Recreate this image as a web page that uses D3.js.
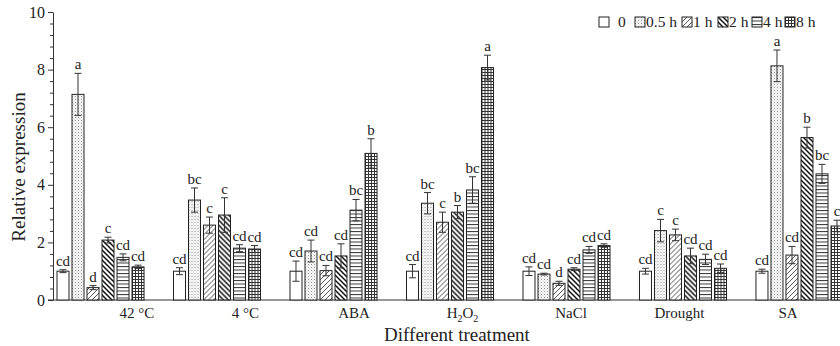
<!DOCTYPE html>
<html>
<head>
<meta charset="utf-8">
<script src="https://cdn.jsdelivr.net/npm/d3@7"></script>
<style>
  body { margin: 0; background: #fff; }
  svg text { font-family: "Liberation Serif", "Times New Roman", serif; fill: #222; }
</style>
</head>
<body>
<div id="chart"></div>
<script>
// data
const treatments = ["42 °C", "4 °C", "ABA", "H2O2", "NaCl", "Drought", "SA"];
const times = ["0", "0.5 h", "1 h", "2 h", "4 h", "8 h"];

// mean relative expression, one row per treatment, one column per time
const means = [
  [1.0, 7.14, 0.43, 2.08, 1.48, 1.15],
  [1.0, 3.47, 2.60, 2.95, 1.80, 1.77],
  [1.0, 1.70, 1.02, 1.53, 3.12, 5.09],
  [1.0, 3.36, 2.70, 3.05, 3.82, 8.07],
  [1.0, 0.90, 0.58, 1.07, 1.74, 1.89],
  [1.0, 2.41, 2.26, 1.53, 1.41, 1.10],
  [1.0, 8.13, 1.56, 5.64, 4.38, 2.57]
];
const errors = [
  [0.05, 0.73, 0.07, 0.10, 0.12, 0.06],
  [0.12, 0.42, 0.28, 0.60, 0.12, 0.12],
  [0.35, 0.38, 0.18, 0.42, 0.37, 0.51],
  [0.23, 0.37, 0.35, 0.23, 0.46, 0.43],
  [0.15, 0.03, 0.07, 0.05, 0.12, 0.06],
  [0.10, 0.39, 0.20, 0.27, 0.18, 0.15],
  [0.07, 0.55, 0.30, 0.36, 0.33, 0.20]
];
const letters = [
  ["cd", "a", "d", "c", "cd", "cd"],
  ["cd", "bc", "c", "c", "cd", "cd"],
  ["cd", "cd", "cd", "cd", "bc", "b"],
  ["cd", "bc", "c", "b", "bc", "a"],
  ["cd", "cd", "d", "cd", "cd", "cd"],
  ["cd", "c", "c", "cd", "cd", "cd"],
  ["cd", "a", "cd", "b", "bc", "c"]
];
const yTicks = [0, 2, 4, 6, 8, 10];

const W = 840, H = 346;
const svg = d3.select("#chart").append("svg")
  .attr("width", W).attr("height", H);

// fill patterns for each time point
const defs = svg.append("defs");
const pat = (id, w, h) => defs.append("pattern").attr("id", id)
  .attr("patternUnits", "userSpaceOnUse").attr("width", w).attr("height", h);

let p = pat("p05", 3, 3);
p.append("rect").attr("width", 3).attr("height", 3).attr("fill", "#fff");
p.append("rect").attr("x", 0).attr("y", 0).attr("width", 1).attr("height", 1).attr("fill", "#8a8a8a");
p.append("rect").attr("x", 1.5).attr("y", 1.5).attr("width", 1).attr("height", 1).attr("fill", "#b0b0b0");

p = pat("p1", 5, 5);
p.append("rect").attr("width", 5).attr("height", 5).attr("fill", "#fff");
p.append("path").attr("d", "M-1,6 L6,-1 M-1,1 L1,-1 M4,6 L6,4").attr("stroke", "#444").attr("stroke-width", 0.9);

p = pat("p2", 5, 5);
p.append("rect").attr("width", 5).attr("height", 5).attr("fill", "#fff");
p.append("path").attr("d", "M-1,-1 L6,6 M4,-1 L6,1 M-1,4 L1,6").attr("stroke", "#111").attr("stroke-width", 1.5);

p = pat("p4", 4, 3.5);
p.append("rect").attr("width", 4).attr("height", 3.5).attr("fill", "#fff");
p.append("line").attr("x1", 0).attr("x2", 4).attr("y1", 0.5).attr("y2", 0.5).attr("stroke", "#333").attr("stroke-width", 1);

p = pat("p8", 3, 3);
p.append("rect").attr("width", 3).attr("height", 3).attr("fill", "#fff");
p.append("path").attr("d", "M0,0.5 H3 M0.5,0 V3").attr("stroke", "#333").attr("stroke-width", 1);

const fills = ["#fff", "url(#p05)", "url(#p1)", "url(#p2)", "url(#p4)", "url(#p8)"];

// scales
const y = d3.scaleLinear().domain([0, 10]).range([300, 12]);
const x0 = d3.scaleBand().domain(treatments).range([57, 843]).paddingInner(0.253).paddingOuter(0);
const x1 = d3.scaleBand().domain(times).range([0, x0.bandwidth()]).paddingInner(0.2);
// category labels sit on their own spacing in the original figure
const xl = d3.scalePoint().domain(treatments).range([137, 788]);

// y axis
const minor = d3.range(0, 10.01, 0.4).filter(v => !yTicks.some(t => Math.abs(t - v) < 1e-6));
svg.append("g").attr("transform", "translate(53,0)")
  .call(d3.axisLeft(y).tickValues(minor).tickSize(3).tickFormat(""))
  .call(g => g.select(".domain").remove())
  .call(g => g.selectAll("line").attr("stroke", "#333"));
svg.append("g").attr("transform", "translate(53,0)")
  .call(d3.axisLeft(y).tickValues(yTicks).tickSize(5).tickSizeOuter(0).tickPadding(3))
  .call(g => g.select(".domain").attr("stroke", "#333"))
  .call(g => g.selectAll("line").attr("stroke", "#333"))
  .call(g => g.selectAll("text").attr("font-size", 16).attr("fill", "#222"));

// x axis line
svg.append("line").attr("x1", 48).attr("x2", W).attr("y1", y(0)).attr("y2", y(0))
  .attr("stroke", "#333").attr("stroke-width", 1);

// bars
const rows = treatments.map((t, i) => times.map((s, j) => ({
  t, s, j, v: means[i][j], e: errors[i][j], l: letters[i][j]
})));

const grp = svg.selectAll("g.grp").data(rows).join("g")
  .attr("class", "grp")
  .attr("transform", d => `translate(${x0(d[0].t)},0)`);

grp.selectAll("rect").data(d => d).join("rect")
  .attr("x", d => x1(d.s))
  .attr("y", d => y(d.v))
  .attr("width", x1.bandwidth())
  .attr("height", d => y(0) - y(d.v))
  .attr("fill", d => fills[d.j])
  .attr("stroke", "#222").attr("stroke-width", 1);

// error bars
const eb = grp.selectAll("g.eb").data(d => d).join("g").attr("class", "eb")
  .attr("transform", d => `translate(${x1(d.s) + x1.bandwidth() / 2},0)`)
  .attr("stroke", "#333").attr("stroke-width", 1);
eb.append("line").attr("y1", d => y(d.v - d.e)).attr("y2", d => y(d.v + d.e));
eb.append("line").attr("x1", -3.5).attr("x2", 3.5).attr("y1", d => y(d.v + d.e)).attr("y2", d => y(d.v + d.e));
eb.append("line").attr("x1", -3.5).attr("x2", 3.5).attr("y1", d => y(d.v - d.e)).attr("y2", d => y(d.v - d.e));

// significance letters
grp.selectAll("text.sig").data(d => d).join("text").attr("class", "sig")
  .attr("x", d => x1(d.s) + x1.bandwidth() / 2)
  .attr("y", d => y(d.v + d.e) - 4)
  .attr("text-anchor", "middle")
  .attr("font-size", 15)
  .text(d => d.l);

// category labels
const cl = svg.selectAll("text.cat").data(treatments).join("text").attr("class", "cat")
  .attr("x", d => xl(d)).attr("y", 318)
  .attr("text-anchor", "middle").attr("font-size", 15);
cl.each(function (d) {
  const t = d3.select(this);
  if (d === "H2O2") {
    t.append("tspan").text("H");
    t.append("tspan").attr("dy", 4).attr("font-size", 10).text("2");
    t.append("tspan").attr("dy", -4).text("O");
    t.append("tspan").attr("dy", 4).attr("font-size", 10).text("2");
  } else {
    t.text(d);
  }
});

// axis titles
svg.append("text").attr("x", 457).attr("y", 341).attr("text-anchor", "middle")
  .attr("font-size", 19).text("Different treatment");
svg.append("text").attr("transform", "translate(25,167) rotate(-90)")
  .attr("text-anchor", "middle").attr("font-size", 19).text("Relative expression");

// legend
const legX = [599, 635, 682, 718, 752, 785];
const leg = svg.selectAll("g.leg").data(times).join("g").attr("class", "leg")
  .attr("transform", (d, i) => `translate(${legX[i]},17)`);
leg.append("rect").attr("width", 10).attr("height", 10)
  .attr("fill", (d, i) => fills[i]).attr("stroke", "#222").attr("stroke-width", 1);
leg.append("text").attr("x", (d, i) => i === 0 ? 19 : 11).attr("y", 10)
  .attr("font-size", 15.5).text(d => d);
</script>
</body>
</html>
